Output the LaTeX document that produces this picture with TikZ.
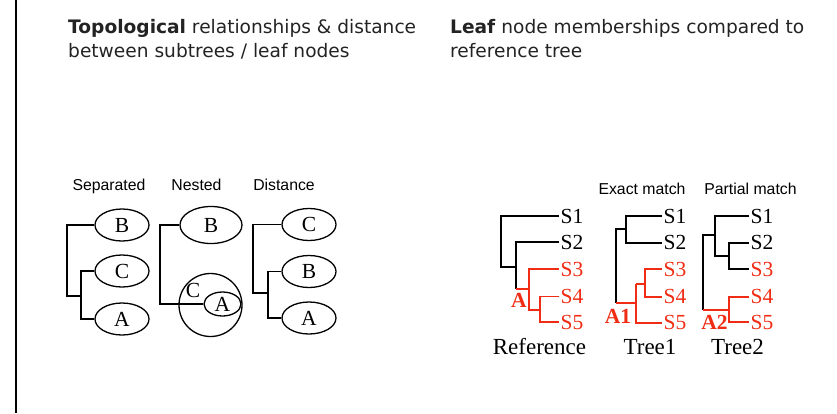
\documentclass[tikz,border=0pt]{standalone}
\usepackage{fontspec}
\setmainfont{Liberation Serif}
\newfontfamily\hdfont{DejaVu Sans}
\newfontfamily\lblfont{Liberation Sans}
\usetikzlibrary{shapes.geometric}
\definecolor{treered}{RGB}{240,45,20}
\definecolor{hdgray}{RGB}{35,35,35}
\begin{document}
\begin{tikzpicture}[x=1pt,y=-1pt,
  treeline/.style={line width=1.7pt, line join=miter},
  redline/.style={treeline, draw=treered},
  oval/.style={ellipse, draw, line width=1.3pt, inner sep=0pt, minimum width=54pt, minimum height=32pt, font=\fontsize{21.5}{23}\selectfont},
  hdr/.style={anchor=base west, inner sep=0pt, text=hdgray, font=\hdfont\fontsize{18.6}{22}\selectfont},
  lbl/.style={anchor=base, inner sep=0pt, font=\lblfont\fontsize{15.8}{18}\selectfont},
  leaf/.style={anchor=west, inner sep=1.5pt, font=\fontsize{21.5}{23}\selectfont},
  redleaf/.style={leaf, text=treered},
  clade/.style={inner sep=0pt, text=treered, font=\bfseries\fontsize{21.5}{23}\selectfont},
  ttl/.style={anchor=base, inner sep=0pt, font=\fontsize{23}{25}\selectfont}
]
\useasboundingbox (0,0) rectangle (837,413);
% left border
\draw[line width=2.5pt] (16,0) coordinate (bt) -- (16,413) coordinate (bb);

% headers
\node[hdr] (h1a) at (68,33.3) {\textbf{Topological} relationships \& distance};
\node[hdr] (h1b) at (68,57) {between subtrees / leaf nodes};
\node[hdr] (h2a) at (450,33.3) {\textbf{Leaf} node memberships compared to};
\node[hdr] (h2b) at (450,57) {reference tree};

% small labels
\node[lbl] (lsep) at (109,190) {Separated};
\node[lbl] (lnest) at (196.5,190) {Nested};
\node[lbl] (ldist) at (284,190) {Distance};
\node[lbl] (lexact) at (642,194) {Exact match};
\node[lbl] (lpart) at (750.5,194) {Partial match};

% ---- Separated ----
\node[oval] (sB) at (122,225) {B};
\node[oval] (sC) at (122,271) {C};
\node[oval] (sA) at (122,319) {A};
\coordinate (s1) at (66.7,295.7);
\coordinate (s2) at (80.7,295.7);
\draw[treeline] (sB.west) -| (s1) -- (s2);
\draw[treeline] (sC.west) -| (s2) |- (sA.west);

% ---- Nested ----
\node[oval, minimum width=62pt, minimum height=37pt] (nB) at (211,225) {B};
\node[circle, draw, line width=1.3pt, minimum size=63pt, inner sep=0pt] (nC) at (210.5,305) {};
\node[oval, minimum width=37pt, minimum height=24pt] (nA) at (222.5,304) {A};
\node[inner sep=0pt, font=\fontsize{21.5}{23}\selectfont] (nCl) at (193,290.5) {C};
\coordinate (n1) at (160,304);
\draw[treeline] (nB.west) -| (n1) -- (nA.west);

% ---- Distance ----
\node[oval] (dC) at (309,224.5) {C};
\node[oval] (dB) at (309,271.5) {B};
\node[oval] (dA) at (309,318) {A};
\coordinate (d1) at (253,293);
\coordinate (d2) at (268,293);
\draw[treeline] (dC.west) -| (d1) -- (d2);
\draw[treeline] (dB.west) -| (d2) |- (dA.west);

% ---- Reference tree ----
\node[leaf] (rS1) at (559,216) {S1};
\node[leaf] (rS2) at (559,242) {S2};
\node[redleaf] (rS3) at (559,269) {S3};
\node[redleaf] (rS4) at (559,296.5) {S4};
\node[redleaf] (rS5) at (559,322) {S5};
\coordinate (rR) at (501,267);
\coordinate (rR2) at (516,267);
\coordinate (rA) at (516,289);
\coordinate (rA2) at (529,289);
\coordinate (rB) at (529,310);
\coordinate (rC) at (540,310);
\draw[treeline] (rS1.west) -| (rR) -- (rR2);
\draw[treeline] (rS2.west) -| (rA);
\draw[redline] (rA) -- (rA2);
\draw[redline] (rS3.west) -| (rB) -- (rC);
\draw[redline] (rS4.west) -| (rC) |- (rS5.west);
\node[clade] (rLab) at (519,300) {A};

% ---- Tree1 ----
\node[leaf] (tS1) at (662,216) {S1};
\node[leaf] (tS2) at (662,242.7) {S2};
\node[redleaf] (tS3) at (662,269) {S3};
\node[redleaf] (tS4) at (662,296.7) {S4};
\node[redleaf] (tS5) at (662,322.7) {S5};
\coordinate (tU) at (626,229);
\coordinate (tR) at (616,229);
\coordinate (tRb) at (616,303);
\coordinate (tV) at (636,303);
\coordinate (tW) at (636,284);
\coordinate (tX) at (645,284);
\draw[treeline] (tS1.west) -| (tU) |- (tS2.west);
\draw[treeline] (tU) -- (tR) -- (tRb);
\draw[redline] (tRb) -- (tV);
\draw[redline] (tW) |- (tS5.west);
\draw[redline] (tW) -- (tX);
\draw[redline] (tS3.west) -| (tX) |- (tS4.west);
\node[clade] (tLab) at (618,316) {A1};

% ---- Tree2 ----
\node[leaf] (uS1) at (749,216) {S1};
\node[leaf] (uS2) at (749,242.7) {S2};
\node[redleaf] (uS3) at (749,269) {S3};
\node[redleaf] (uS4) at (749,296.7) {S4};
\node[redleaf] (uS5) at (749,322) {S5};
\coordinate (uA) at (715,255.7);
\coordinate (uB) at (729,255.7);
\coordinate (uQ) at (715,235);
\coordinate (uR) at (703,235);
\coordinate (uRb) at (703,310);
\coordinate (uC) at (729,310);
\draw[treeline] (uS1.west) -| (uA) -- (uB);
\draw[treeline] (uS2.west) -| (uB) |- (uS3.west);
\draw[treeline] (uQ) -- (uR) -- (uRb);
\draw[redline] (uRb) -- (uC);
\draw[redline] (uS4.west) -| (uC) |- (uS5.west);
\node[clade] (uLab) at (714.5,322) {A2};

% titles
\node[ttl] (tRef) at (539.5,354) {Reference};
\node[ttl] (tT1) at (650,354) {Tree1};
\node[ttl] (tT2) at (737.5,354) {Tree2};
\end{tikzpicture}
\end{document}
